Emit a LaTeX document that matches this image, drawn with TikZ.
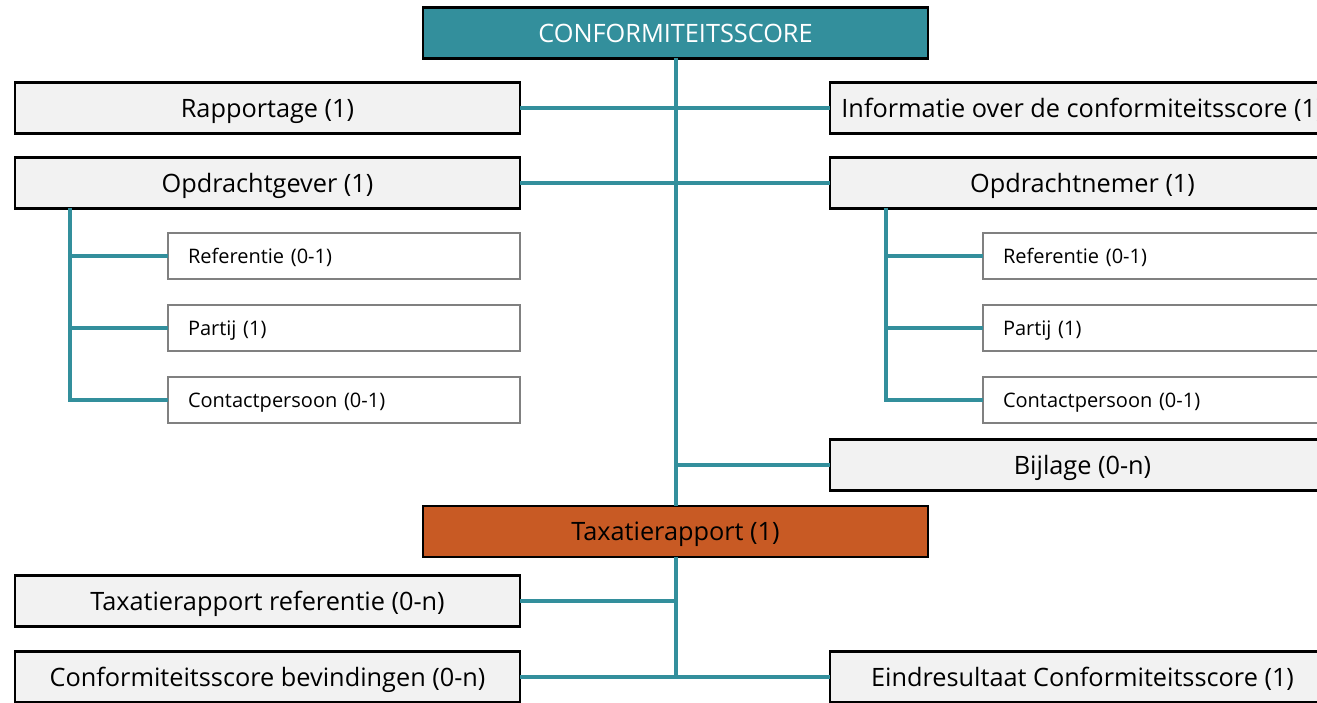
\documentclass[tikz,border=0pt]{standalone}
\usepackage{fontspec}
\setmainfont{Open Sans}
\definecolor{trunk}{RGB}{51,143,156}
\definecolor{rootfill}{RGB}{51,143,156}
\definecolor{reportfill}{RGB}{200,90,36}
\definecolor{boxfill}{RGB}{242,242,242}
\definecolor{subedge}{RGB}{128,128,128}
\tikzset{
  mainbox/.style={draw=black, line width=2.8pt, fill=boxfill, minimum width=505pt,
    minimum height=51pt, inner sep=0pt, outer sep=0pt, text depth=0pt,
    font=\fontsize{25.3}{29}\selectfont},
  rootbox/.style={mainbox, fill=rootfill, text=white},
  reportbox/.style={mainbox, fill=reportfill, text=black},
  subbox/.style={draw=subedge, line width=2.8pt, fill=white, text width=312pt,
    inner xsep=20pt, inner ysep=0pt, align=left, minimum height=46pt, outer sep=0pt,
    text depth=0pt, font=\fontsize{20}{23}\selectfont},
  link/.style={draw=trunk, line width=3.4pt}
}
\begin{document}
\begin{tikzpicture}[x=1pt,y=-1pt]
\useasboundingbox (0,0) rectangle (1317,703);
\clip (0,0) rectangle (1317,703);

% trunk positions
\coordinate (t0) at (676,59);
\coordinate (t3) at (676,677);

% boxes
\node[rootbox] (root) at (675.5,33) {CONFORMITEITSSCORE};
\node[mainbox] (rap) at (267.5,108) {Rapportage (1)};
\node[mainbox] (info) at (1082.5,108) {Informatie over de conformiteitsscore (1)};
\node[mainbox] (gever) at (267.5,183) {Opdrachtgever (1)};
\node[mainbox] (nemer) at (1082.5,183) {Opdrachtnemer (1)};

\node[subbox, anchor=west] (gref) at (168,256) {Referentie (0-1)};
\node[subbox, anchor=west] (gpar) at (168,328) {Partij (1)};
\node[subbox, anchor=west] (gcon) at (168,400) {Contactpersoon (0-1)};
\node[subbox, anchor=west] (nref) at (983,256) {Referentie (0-1)};
\node[subbox, anchor=west] (npar) at (983,328) {Partij (1)};
\node[subbox, anchor=west] (ncon) at (983,400) {Contactpersoon (0-1)};

\node[mainbox] (bijl) at (1082.5,465) {Bijlage (0-n)};
\node[reportbox] (tax) at (675.5,531.5) {Taxatierapport (1)};
\node[mainbox] (taxref) at (267.5,601) {Taxatierapport referentie (0-n)};
\node[mainbox] (bev) at (267.5,677) {Conformiteitsscore bevindingen (0-n)};
\node[mainbox] (eind) at (1082.5,677) {Eindresultaat Conformiteitsscore (1)};

% trunk from the root down to the report, with its branches
\draw[link] (root.south -| t0) -- (tax.north -| t0);
\draw[link] (rap.east) -- (rap.east -| t0) -- (info.west);
\draw[link] (gever.east) -- (gever.east -| t0) -- (nemer.west);
\draw[link] (bijl.west -| t0) -- (bijl.west);

% children of Opdrachtgever
\draw[link] (gever.south -| 70,0) |- (gcon.west);
\draw[link] (70,328) -- (gpar.west);
\draw[link] (70,256) -- (gref.west);

% children of Opdrachtnemer
\draw[link] (nemer.south -| 886,0) |- (ncon.west);
\draw[link] (886,328) -- (npar.west);
\draw[link] (886,256) -- (nref.west);

% children of Taxatierapport
\draw[link] (tax.south -| t0) -- (t3);
\draw[link] (taxref.east) -- (taxref.east -| t0);
\draw[link] (bev.east) -- (eind.west);
\end{tikzpicture}
\end{document}
